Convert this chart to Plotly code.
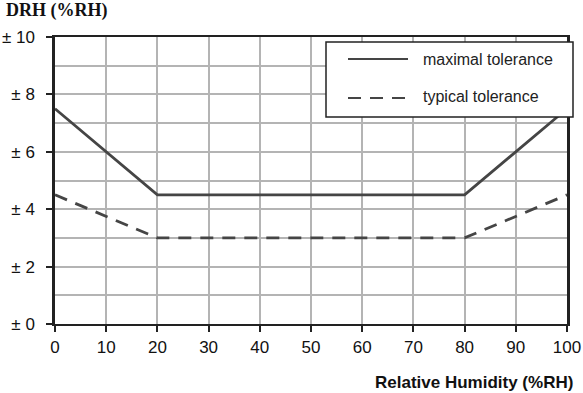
import plotly.graph_objects as go

rh = [0, 20, 80, 100]
maximal = [7.5, 4.5, 4.5, 7.5]
typical = [4.5, 3.0, 3.0, 4.5]
x_ticks = [0, 10, 20, 30, 40, 50, 60, 70, 80, 90, 100]
y_ticks = [0, 2, 4, 6, 8, 10]
y_labels = ["± " + str(v) for v in y_ticks]
series_names = ["maximal tolerance", "typical tolerance"]

W, H = 583, 393
L, R, T, B = 55, 16, 37, 69
PW, PH = W - L - R, H - T - B


def px(x):
    return (x - L) / PW


def py(y):
    return (H - B - y) / PH


line_color = "#454545"
dash = "13px,9px"
fig = go.Figure()
fig.add_trace(go.Scatter(x=rh, y=maximal, mode="lines", name=series_names[0],
                         showlegend=False,
                         line=dict(color=line_color, width=2.8)))
fig.add_trace(go.Scatter(x=rh, y=typical, mode="lines", name=series_names[1],
                         showlegend=False,
                         line=dict(color=line_color, width=2.8, dash=dash)))

font = "Liberation Sans, Arial, sans-serif"
grid = "#b4b4b4"

shapes = [
    dict(type="rect", xref="paper", yref="paper", x0=px(326), x1=px(573),
         y0=py(117), y1=py(42), fillcolor="white",
         line=dict(color="#222222", width=1.5), layer="above"),
    dict(type="line", xref="paper", yref="paper", x0=px(348), x1=px(408),
         y0=py(59), y1=py(59), line=dict(color=line_color, width=2), layer="above"),
    dict(type="line", xref="paper", yref="paper", x0=px(348), x1=px(408),
         y0=py(98), y1=py(98), line=dict(color=line_color, width=2, dash=dash),
         layer="above"),
]

annotations = [
    dict(text=series_names[0], xref="paper", yref="paper", x=px(421), y=py(59),
         xanchor="left", yanchor="middle", showarrow=False,
         font=dict(family=font, size=16, color="#222222")),
    dict(text=series_names[1], xref="paper", yref="paper", x=px(421), y=py(97),
         xanchor="left", yanchor="middle", showarrow=False,
         font=dict(family=font, size=16, color="#222222")),
    dict(text="<b>DRH (%RH)</b>", xref="paper", yref="paper",
         x=px(4), y=py(10), xanchor="left", yanchor="middle",
         showarrow=False, font=dict(family="Liberation Serif, Times New Roman, serif",
                                    size=18, color="#111111")),
    dict(text="<b>Relative Humidity (%RH)</b>", xref="paper", yref="paper",
         x=px(575), y=py(382), xanchor="right", yanchor="middle",
         showarrow=False, font=dict(family=font, size=17, color="#111111")),
]

fig.update_layout(
    width=W, height=H,
    margin=dict(l=L, r=R, t=T, b=B),
    paper_bgcolor="white", plot_bgcolor="white",
    font=dict(family=font, size=17, color="#111111"),
    showlegend=False,
    xaxis=dict(range=[0, 100], tickvals=x_ticks, ticks="outside", ticklen=6,
               tickcolor="#222222", tickwidth=1.5, automargin=False,
               showgrid=True, gridcolor=grid, gridwidth=1.8,
               showline=True, linecolor="#222222", linewidth=2, mirror=True,
               zeroline=False, ticklabelstandoff=1,
               tickfont=dict(size=17)),
    yaxis=dict(range=[0, 10], tickvals=y_ticks, ticktext=y_labels,
               ticks="outside", ticklen=6, tickcolor="#222222", tickwidth=1.5,
               automargin=False,
               showgrid=True, gridcolor=grid, gridwidth=1.8,
               minor=dict(dtick=1, showgrid=True, gridcolor=grid, gridwidth=1.8),
               showline=True, linecolor="#222222", linewidth=2.5, mirror=True,
               zeroline=False, ticklabelstandoff=8,
               tickfont=dict(size=17)),
    shapes=shapes,
    annotations=annotations,
)
fig.write_html("out.html",
               config={"displayModeBar": False},
               post_script="document.body.style.margin='0';"
                           "document.body.style.overflow='hidden';")
